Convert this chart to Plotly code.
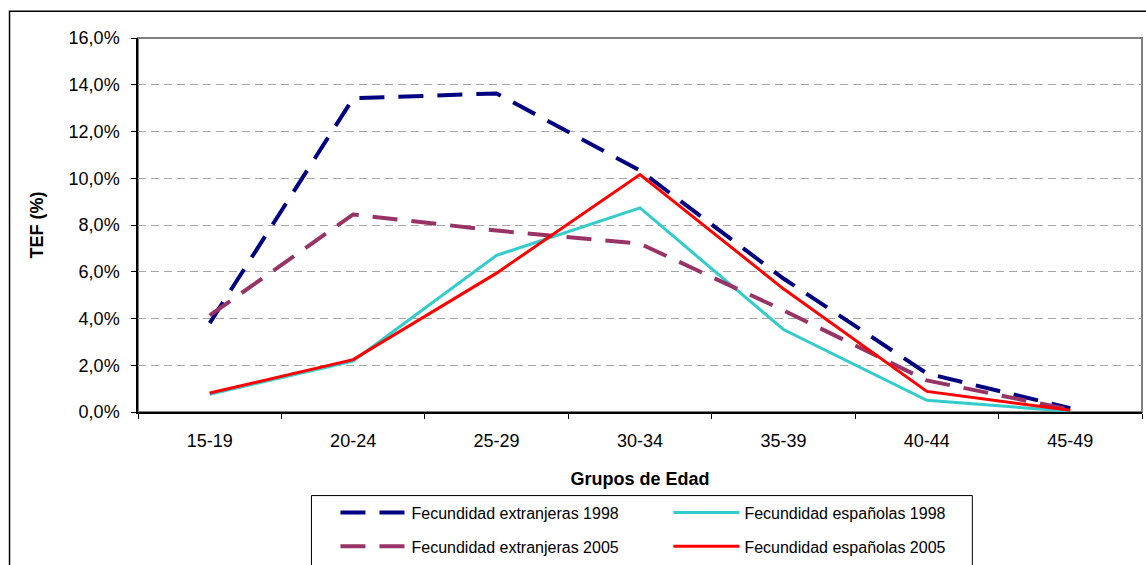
import plotly.graph_objects as go

# ---- data ----
grupos = ["15-19", "20-24", "25-29", "30-34", "35-39", "40-44", "45-49"]
extranjeras_1998 = [3.80, 13.42, 13.63, 10.33, 5.71, 1.65, 0.16]
espanolas_1998 = [0.76, 2.18, 6.70, 8.73, 3.53, 0.50, 0.03]
extranjeras_2005 = [4.13, 8.45, 7.76, 7.20, 4.35, 1.35, 0.10]
espanolas_2005 = [0.81, 2.24, 5.94, 10.16, 5.27, 0.88, 0.07]
nombres = ["Fecundidad extranjeras 1998", "Fecundidad españolas 1998",
           "Fecundidad extranjeras 2005", "Fecundidad españolas 2005"]

W, H = 1146, 565
L, R, T, B = 137.5, 1141.7, 37.7, 412.3
FONT = "Liberation Sans, Arial, sans-serif"


def px_x(p):
    return (p - L) / (R - L)


def px_y(p):
    return (B - p) / (B - T)


fig = go.Figure()
series = [
    (extranjeras_1998, nombres[0], "#000080", 4, "25px,14px", "legend", "g1"),
    (espanolas_1998, nombres[1], "#33CCCC", 3, "solid", "legend2", "g2"),
    (extranjeras_2005, nombres[2], "#993366", 4, "25px,14px", "legend", "g3"),
    (espanolas_2005, nombres[3], "#FF0000", 3, "solid", "legend2", "g4"),
]
for vals, name, color, width, dash, leg, grp in series:
    fig.add_trace(go.Scatter(
        x=grupos, y=[v / 100 for v in vals], name=name, mode="lines",
        line=dict(color=color, width=width, dash=dash),
        legend=leg, legendgroup=grp, hoverinfo="skip",
    ))

legend_common = dict(
    orientation="v", bgcolor="rgba(0,0,0,0)", borderwidth=0,
    font=dict(family=FONT, size=16, color="#000000"),
    itemwidth=66, tracegroupgap=10, xanchor="left", yanchor="top",
)

fig.update_layout(
    width=W, height=H,
    margin=dict(l=L, r=W - R, t=T, b=H - B, pad=0, autoexpand=False),
    paper_bgcolor="white", plot_bgcolor="white",
    separators=",.",
    font=dict(family=FONT, size=18, color="#000000"),
    showlegend=True,
    legend=dict(x=px_x(335), y=px_y(496), **legend_common),
    legend2=dict(x=px_x(668), y=px_y(496), **legend_common),
    xaxis=dict(
        type="category", range=[-0.5, 6.5], tickson="boundaries",
        ticks="outside", ticklen=5,
        tickcolor="#000000", showline=True, linecolor="#000000", linewidth=1.5,
        showgrid=False, zeroline=False, ticklabelstandoff=12,
        tickfont=dict(family=FONT, size=18),
        title=dict(text="<b>Grupos de Edad</b>", standoff=22,
                   font=dict(family=FONT, size=18)),
    ),
    yaxis=dict(
        range=[0, 0.16], dtick=0.02, tick0=0, tickformat=".1%",
        ticks="outside", ticklen=5, tickcolor="#000000",
        showline=True, linecolor="#000000", linewidth=1.5,
        showgrid=True, gridcolor="#A6A6A6", gridwidth=1, griddash="8px,5px",
        zeroline=False, ticklabelstandoff=8,
        tickfont=dict(family=FONT, size=18),
        title=dict(text="<b>TEF (%)</b>", standoff=20,
                   font=dict(family=FONT, size=18)),
    ),
    shapes=[
        # plot area frame (gray)
        dict(type="rect", xref="paper", yref="paper", x0=0, x1=1, y0=0, y1=1,
             line=dict(color="#808080", width=2), layer="below"),
        # outer chart border
        dict(type="rect", xref="paper", yref="paper",
             x0=px_x(9), x1=px_x(1160), y0=px_y(11), y1=px_y(590),
             line=dict(color="#000000", width=1.5), layer="below"),
        # legend box
        dict(type="rect", xref="paper", yref="paper",
             x0=px_x(311), x1=px_x(972), y0=px_y(496), y1=px_y(590),
             line=dict(color="#000000", width=1), layer="below"),
    ],
)

fig.write_html("out.html")
